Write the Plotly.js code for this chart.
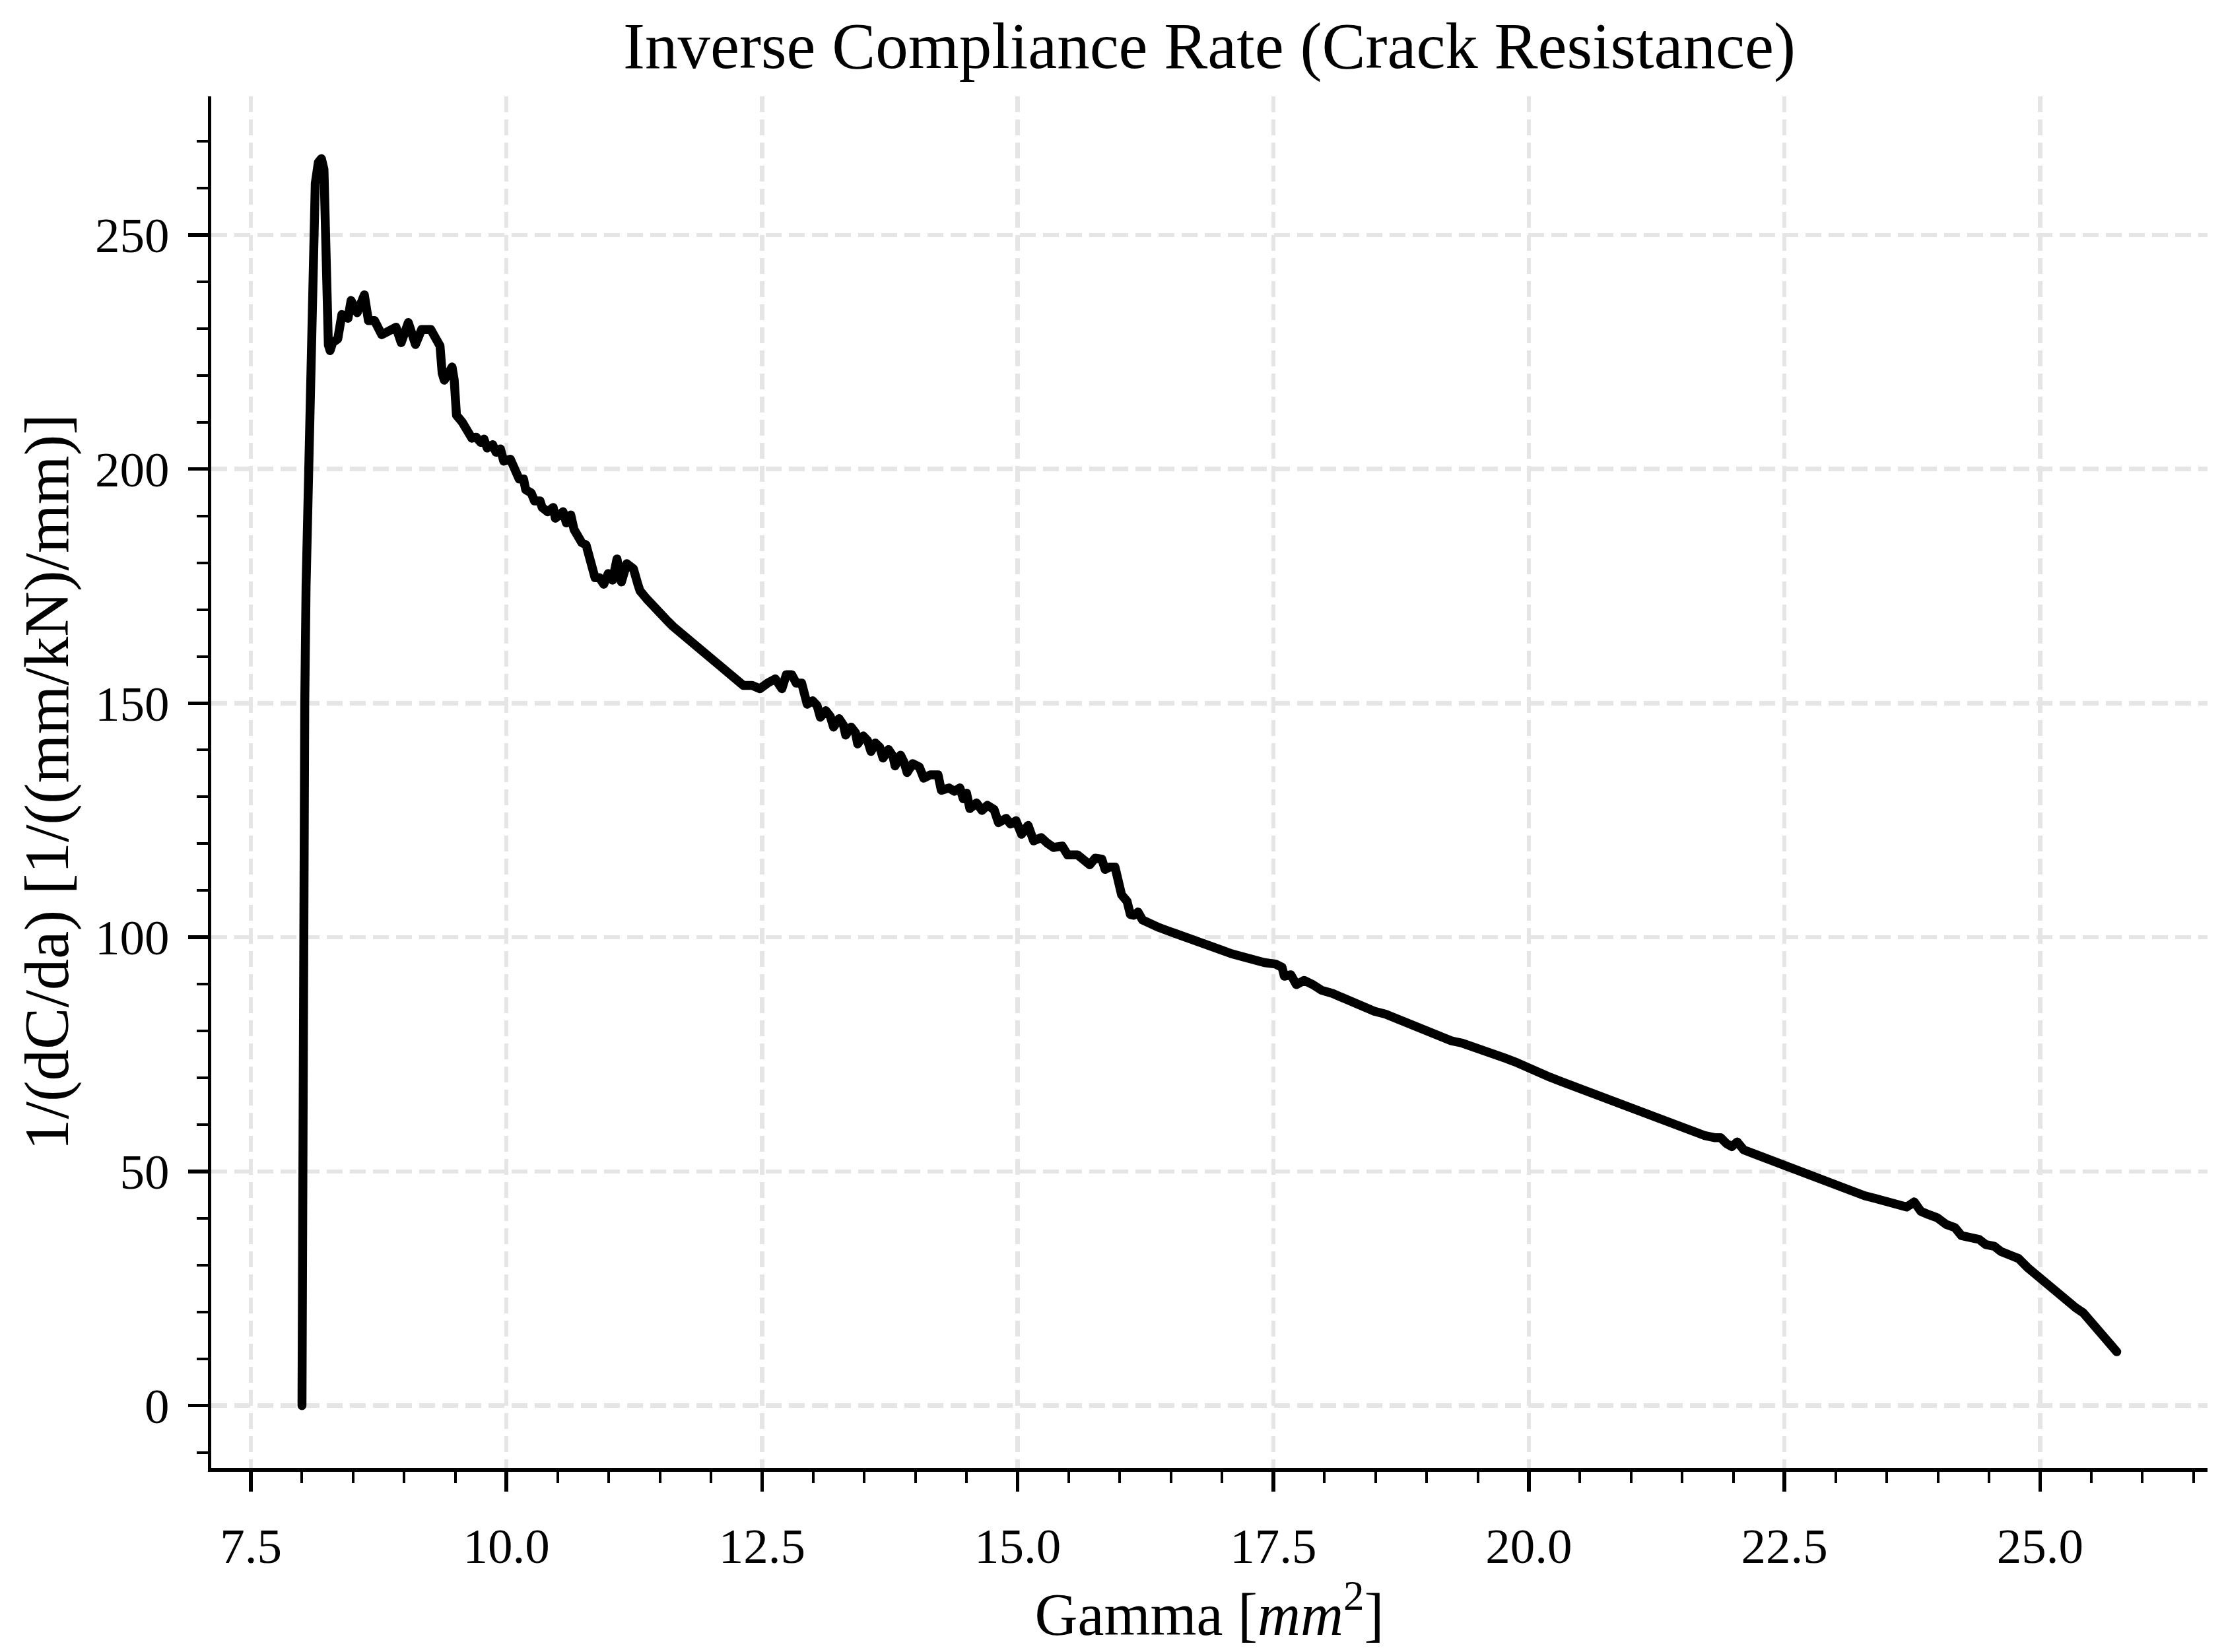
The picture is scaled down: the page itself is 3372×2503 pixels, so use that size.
<!DOCTYPE html>
<html>
<head>
<meta charset="utf-8">
<script src="https://cdn.plot.ly/plotly-3.0.1.min.js"></script>
<style>
  html, body { margin: 0; padding: 0; background: #ffffff; }
  #chart { width: 3372px; height: 2503px; }
</style>
</head>
<body>
<div id="chart"></div>
<script>
// Gamma [mm^2]
const gamma = [
  8.000, 8.002, 8.004, 8.007, 8.010, 8.016, 8.027, 8.040, 8.060, 8.085,
  8.107, 8.130, 8.160, 8.190, 8.215, 8.232, 8.245, 8.258, 8.275, 8.300,
  8.350, 8.390, 8.450, 8.480, 8.540, 8.610, 8.650, 8.710, 8.780, 8.870,
  8.920, 8.970, 9.040, 9.110, 9.170, 9.260, 9.350, 9.371, 9.392, 9.435,
  9.468, 9.489, 9.511, 9.565, 9.608, 9.661, 9.705, 9.747, 9.780, 9.812,
  9.866, 9.898, 9.941, 9.973, 10.038, 10.081, 10.124, 10.167, 10.188, 10.242,
  10.274, 10.328, 10.349, 10.403, 10.457, 10.478, 10.553, 10.586, 10.629, 10.661,
  10.704, 10.736, 10.779, 10.812, 10.844, 10.866, 10.909, 10.952, 10.995, 11.038,
  11.081, 11.124, 11.177, 11.242, 11.285, 11.306, 11.371, 11.424, 11.478, 11.565,
  11.629, 11.715, 11.801, 11.887, 11.973, 12.059, 12.145, 12.231, 12.317, 12.403,
  12.479, 12.554, 12.629, 12.694, 12.737, 12.790, 12.834, 12.887, 12.919, 12.941,
  12.995, 13.038, 13.070, 13.124, 13.167, 13.199, 13.253, 13.296, 13.318, 13.371,
  13.414, 13.435, 13.489, 13.532, 13.565, 13.608, 13.651, 13.683, 13.737, 13.780,
  13.801, 13.855, 13.887, 13.919, 13.973, 14.038, 14.081, 14.145, 14.221, 14.253,
  14.328, 14.382, 14.435, 14.468, 14.500, 14.532, 14.597, 14.651, 14.704, 14.769,
  14.812, 14.887, 14.930, 14.984, 15.038, 15.102, 15.156, 15.231, 15.285, 15.350,
  15.435, 15.489, 15.586, 15.640, 15.705, 15.758, 15.823, 15.855, 15.898, 15.952,
  15.984, 16.016, 16.070, 16.102, 16.134, 16.177, 16.221, 16.296, 16.382, 16.468,
  16.554, 16.640, 16.726, 16.812, 16.898, 17.005, 17.091, 17.199, 17.306, 17.414,
  17.521, 17.586, 17.608, 17.672, 17.726, 17.801, 17.887, 17.973, 18.081, 18.167,
  18.274, 18.382, 18.490, 18.597, 18.705, 18.812, 18.919, 19.027, 19.135, 19.242,
  19.350, 19.457, 19.565, 19.672, 19.780, 19.887, 19.995, 20.102, 20.210, 20.317,
  20.425, 20.532, 20.640, 20.747, 20.855, 20.962, 21.070, 21.177, 21.285, 21.392,
  21.500, 21.608, 21.715, 21.823, 21.876, 21.930, 21.984, 22.038, 22.102, 22.210,
  22.317, 22.425, 22.532, 22.640, 22.747, 22.855, 22.962, 23.070, 23.177, 23.285,
  23.392, 23.500, 23.608, 23.694, 23.769, 23.833, 23.908, 23.995, 24.081, 24.167,
  24.231, 24.317, 24.403, 24.468, 24.554, 24.618, 24.705, 24.790, 24.876, 24.984,
  25.092, 25.177, 25.348, 25.422, 25.532, 25.643, 25.717, 25.750
];

// 1/(dC/da) [1/((mm/kN)/mm)]
const inverseRate = [
  0.0, 25.0, 50.0, 75.0, 100.0, 125.0, 150.0, 175.0, 200.0, 229.0,
  250.0, 261.0, 265.5, 266.3, 264.0, 248.0, 232.0, 226.5, 225.3, 227.0,
  227.8, 233.0, 232.2, 236.0, 233.4, 237.2, 231.7, 231.7, 228.7, 229.6,
  230.3, 227.0, 231.3, 226.6, 229.8, 229.8, 226.3, 220.5, 219.0, 220.5,
  221.8, 219.0, 211.5, 210.1, 208.3, 206.6, 206.8, 205.7, 206.4, 204.5,
  205.2, 203.6, 204.3, 201.7, 202.1, 199.3, 197.9, 197.9, 195.6, 194.9,
  193.2, 193.2, 191.8, 190.9, 191.8, 189.5, 190.9, 188.5, 190.2, 187.1,
  185.7, 184.3, 183.8, 181.0, 180.1, 176.8, 176.8, 175.4, 177.7, 176.3,
  180.8, 175.9, 179.8, 178.7, 175.4, 174.0, 172.3, 170.9, 169.5, 167.8,
  166.4, 164.8, 163.2, 161.5, 159.9, 158.2, 156.7, 155.0, 153.8, 153.8,
  153.1, 154.3, 155.2, 153.1, 156.1, 156.1, 154.3, 154.3, 152.3, 149.8,
  150.5, 149.5, 147.0, 148.4, 147.2, 144.9, 146.7, 145.3, 143.2, 144.9,
  143.7, 141.3, 143.0, 142.0, 139.7, 141.5, 140.6, 138.3, 140.1, 138.7,
  136.6, 138.9, 137.5, 135.2, 137.1, 136.4, 134.0, 134.7, 134.7, 131.4,
  131.9, 131.2, 131.9, 129.6, 130.8, 127.5, 128.7, 127.1, 128.2, 127.3,
  124.5, 125.4, 124.2, 124.9, 122.0, 123.9, 120.6, 121.3, 120.2, 119.2,
  119.5, 117.6, 117.6, 116.4, 115.5, 116.9, 116.7, 114.5, 115.0, 115.0,
  111.0, 109.1, 107.7, 104.9, 104.7, 105.4, 103.7, 102.8, 102.1, 101.4,
  100.8, 100.0, 99.3, 98.6, 97.9, 97.2, 96.5, 95.8, 95.0, 94.6,
  94.3, 93.6, 91.7, 92.0, 89.9, 90.8, 89.9, 88.7, 88.0, 87.1,
  86.1, 85.2, 84.2, 83.6, 82.6, 81.9, 80.9, 79.8, 78.6, 77.9,
  77.4, 76.7, 76.0, 75.1, 74.1, 73.2, 72.0, 71.1, 70.1, 69.2,
  68.3, 67.3, 66.6, 65.7, 64.7, 63.8, 62.9, 61.9, 61.0, 60.0,
  59.1, 58.4, 57.7, 57.2, 57.2, 56.0, 55.3, 56.3, 54.6, 53.7,
  52.8, 51.8, 50.9, 49.9, 49.0, 48.1, 47.1, 46.4, 45.6, 44.8,
  44.2, 43.5, 43.1, 42.4, 43.5, 41.5, 40.8, 40.1, 38.7, 38.0,
  36.3, 35.9, 35.5, 34.4, 34.0, 32.9, 32.3, 31.4, 29.5, 27.4,
  25.3, 23.6, 20.9, 19.8, 16.9, 14.4, 12.3, 11.5
];

const chartTitle = 'Inverse Compliance Rate (Crack Resistance)';
const xTitle = 'Gamma [<i>mm</i><sup>2</sup>]';
const yTitle = '1/(dC/da) [1/((mm/kN)/mm)]';

const FONT = '"Liberation Serif", "DejaVu Serif", serif';

const trace = {
  x: gamma,
  y: inverseRate,
  type: 'scatter',
  mode: 'lines',
  line: { color: '#000000', width: 13.5 },
  hoverinfo: 'skip',
  showlegend: false
};

const axisCommon = {
  showline: true,
  linecolor: '#000000',
  linewidth: 5.5,
  ticks: 'outside',
  ticklen: 30,
  tickwidth: 5.5,
  tickcolor: '#000000',
  showgrid: true,
  gridcolor: '#e5e5e5',
  gridwidth: 6.5,
  griddash: '24px,11px',
  zeroline: false,
  mirror: false,
  automargin: false,
  tickfont: { family: FONT, size: 75, color: '#000000' }
};

const layout = {
  width: 3372,
  height: 2503,
  paper_bgcolor: '#ffffff',
  plot_bgcolor: '#ffffff',
  font: { family: FONT, color: '#000000' },
  margin: { l: 320, r: 28, t: 146, b: 279, pad: 0 },
  title: {
    text: chartTitle,
    font: { family: FONT, size: 99, color: '#000000' },
    xref: 'paper', x: 0.5, xanchor: 'center',
    yref: 'container', y: 1 - 68 / 2503, yanchor: 'middle'
  },
  xaxis: Object.assign({}, axisCommon, {
    range: [7.1125, 26.6375],
    tick0: 7.5, dtick: 2.5,
    tickformat: '.1f',
    ticklabelstandoff: 18,
    minor: { tick0: 7.5, dtick: 0.5, ticks: 'outside', ticklen: 17, tickwidth: 4, tickcolor: '#000000', showgrid: false },
    title: { text: xTitle, font: { family: FONT, size: 90, color: '#000000' }, standoff: 8 }
  }),
  yaxis: Object.assign({}, axisCommon, {
    range: [-13.3, 279.6],
    tick0: 0, dtick: 50,
    tickformat: 'd',
    ticklabelstandoff: 13,
    minor: { tick0: 0, dtick: 10, ticks: 'outside', ticklen: 17, tickwidth: 4, tickcolor: '#000000', showgrid: false },
    title: { text: yTitle, font: { family: FONT, size: 95, color: '#000000' }, standoff: 11 }
  })
};

Plotly.newPlot('chart', [trace], layout, { staticPlot: true, displayModeBar: false }).then(function () {
  document.querySelectorAll('.scatterlayer path.js-line').forEach(function (p) {
    p.style.strokeLinejoin = 'round';
    p.style.strokeLinecap = 'round';
  });
});
</script>
</body>
</html>
